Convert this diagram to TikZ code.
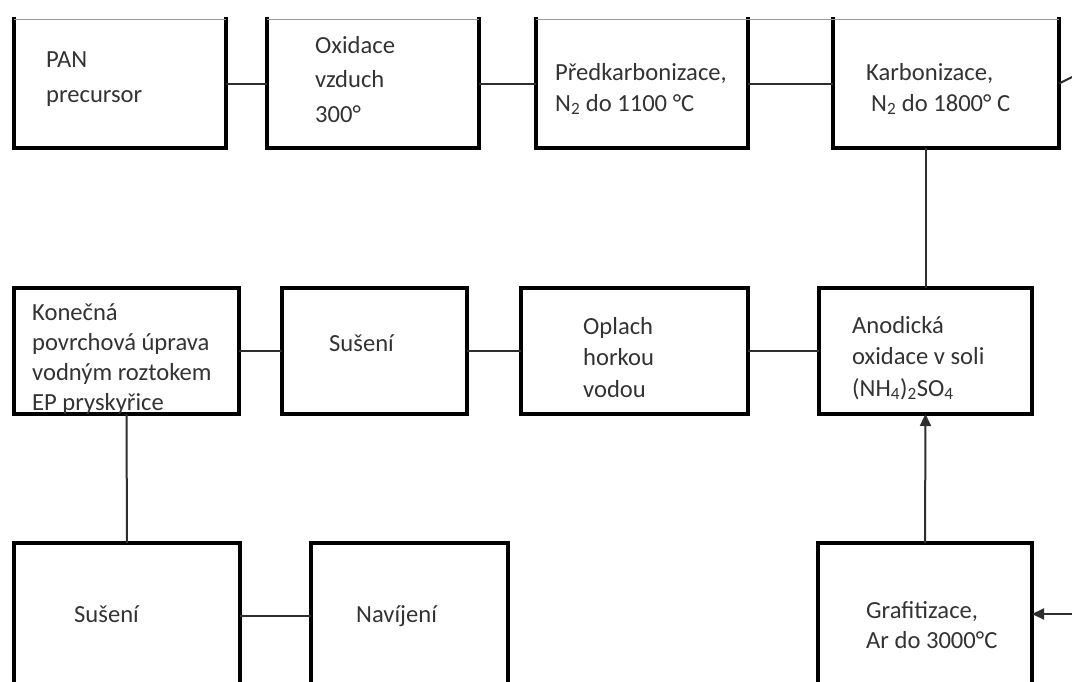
\documentclass[tikz,border=0pt]{standalone}
\usepackage{fontspec}
\setmainfont{Carlito}
\usetikzlibrary{arrows.meta}
\definecolor{txtgray}{HTML}{333333}
\definecolor{linegray}{HTML}{2E2E2E}
\definecolor{thingray}{HTML}{9A9A9A}
\tikzset{
  boxbase/.style={rectangle, inner sep=0pt, outer sep=0pt, anchor=north west},
  stepbox/.style={boxbase, draw=black, line width=3.8pt},
  openbox/.style={boxbase, draw=none},
  txt/.style={anchor=base west, align=left, inner sep=0pt, text=txtgray,
              font=\fontsize{24.6}{#1}\selectfont},
  txt/.default=34,
  conn/.style={draw=linegray, line width=2pt},
  arr/.style={conn, -{Triangle[length=12pt,width=11pt]}},
}
\begin{document}
\begin{tikzpicture}[x=1pt,y=-1pt]
\useasboundingbox (0,0) rectangle (1072,681);
\clip (0,0) rectangle (1072,681);
\fill[white] (0,0) rectangle (1072,681);

% top row (thin top edge)
\node[openbox, minimum width=212pt, minimum height=129pt] (pan)  at (14,19) {};
\node[openbox, minimum width=212pt, minimum height=129pt] (oxi)  at (267,19) {};
\node[openbox, minimum width=212pt, minimum height=129pt] (pred) at (536,19) {};
\node[openbox, minimum width=226pt, minimum height=129pt] (karb) at (833,19) {};
\foreach \b in {pan,oxi,pred,karb}{
  \draw[line width=3.8pt, line cap=rect] (\b.north west) -- (\b.south west) -- (\b.south east) -- (\b.north east);
  \draw[thingray, line width=1pt] (\b.north west) -- (\b.north east);
}
\draw[thingray, line width=0.8pt] (pred.north east) -- (karb.north west);

% middle row
\node[stepbox, minimum width=225pt, minimum height=126pt] (kon)  at (14,288) {};
\node[stepbox, minimum width=185pt, minimum height=126pt] (sus1) at (282,288) {};
\node[stepbox, minimum width=227pt, minimum height=126pt] (opl)  at (521,288) {};
\node[stepbox, minimum width=213pt, minimum height=126pt] (ano)  at (819,288) {};

% bottom row (cut by the page edge)
\node[stepbox, minimum width=226pt, minimum height=146pt] (sus2) at (14,543) {};
\node[stepbox, minimum width=197pt, minimum height=146pt] (nav)  at (311,543) {};
\node[stepbox, minimum width=214pt, minimum height=146pt] (graf) at (818,543) {};

% texts (base anchor = baseline of the last line)
\node[txt=35] (pan-t)  at (46,102)  {PAN\\precursor};
\node[txt=34.5] (oxi-t) at (315,122) {Oxidace\\vzduch\\300°};
\node[txt=31] (pred-t) at (555,111) {Předkarbonizace,\\N\textsubscript{2} do 1100 °C};
\node[txt=31] (karb-t) at (866,111) {Karbonizace,\\\hspace*{5pt}N\textsubscript{2} do 1800° C};
\node[txt=30] (kon-t) at (32,410) {Konečná\\povrchová úprava\\vodným roztokem\\EP pryskyřice};
\node[txt] (sus1-t) at (329,351) {Sušení};
\node[txt=31.5] (opl-t)  at (583,397) {Oplach\\horkou\\vodou};
\node[txt=31.5] (ano-t)  at (852,396) {Anodická\\oxidace v soli\\(NH\textsubscript{4})\textsubscript{2}SO\textsubscript{4}};
\node[txt] (sus2-t) at (74,622)  {Sušení};
\node[txt] (nav-t)  at (356,622) {Navíjení};
\node[txt=30] (graf-t) at (866,648) {Grafitizace,\\Ar do 3000°C};

% connectors
\coordinate (outR) at (1072,77);
\coordinate (inR)  at (1072,614);
\draw[conn] (pan) -- (oxi);
\draw[conn] (oxi) -- (pred);
\draw[conn] (pred) -- (karb);
\draw[conn] (karb.east) -- (outR);
\draw[conn] (karb.south -| ano.north) -- (ano.north);
\draw[conn] (kon) -- (sus1);
\draw[conn] (sus1) -- (opl);
\draw[conn] (opl) -- (ano);
\draw[conn] (kon.south) -- (sus2.north);
\draw[conn] (sus2.east |- 0,616) -- (nav.west |- 0,616);
\draw[arr] (graf.north) -- (ano.south);
\draw[arr] (inR) -- (graf.east |- inR);
\end{tikzpicture}
\end{document}
